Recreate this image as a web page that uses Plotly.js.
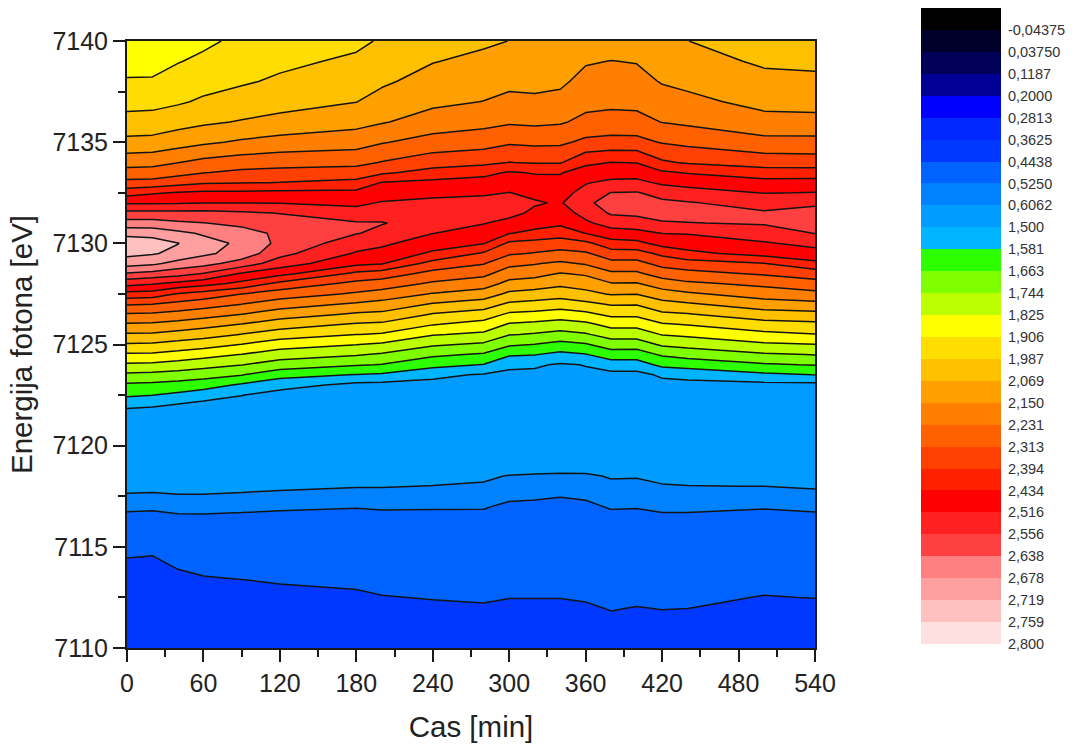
<!DOCTYPE html>
<html><head><meta charset="utf-8">
<script src="https://cdn.plot.ly/plotly-3.0.1.min.js"></script>
<style>html,body{margin:0;padding:0;background:#fff}</style></head>
<body><div id="c" style="width:1078px;height:747px"></div>
<script>
// Time axis [min]
const times = [0,20,40,60,90,120,180,200,240,280,300,320,340,360,380,400,420,440,500,540];
// Photon energy rows [eV], top to bottom
const energies = [7140,7139,7138,7137,7136,7135,7134,7133.5,7133,7132.5,7132,7131.5,7131,7130.5,7130,7129.5,7129,7128.5,7128,7127.5,7127,7126.5,7126,7125.5,7125,7124.5,7124,7123.5,7123,7122.5,7122,7121.5,
  7120,7119,7118.5,7118,7117.5,7117,7116.5,7116,7115,7114.5,7114,7113.5,7113,7112.5,7112,7110];
// Legend labels (one per band boundary); z values below are positions on this non-linear scale
const levelLabels = ["-0,04375","0,03750","0,1187","0,2000","0,2813","0,3625","0,4438","0,5250","0,6062","1,500","1,581","1,663","1,744","1,825","1,906","1,987","2,069","2,150","2,231","2,313","2,394","2,434","2,516","2,556","2,638","2,678","2,719","2,759","2,800"];
const bandColors = ["#000000","#00002a","#000058","#000095","#0000ff","#0028ff","#0038ff","#0062ff","#0082ff","#009cff","#00b4ff","#2dff00","#7fff00","#bbff00","#ffff00","#ffdd00","#ffc000","#ff9f00","#ff8000","#ff6000","#ff4000","#ff2000","#ff0000","#ff2020","#ff4040","#ff8080","#ffa0a0","#ffc0c0","#ffe0e0"];
// Measured signal per time column, in energy-row order
const t0   = [13.2,13.6,14.1,14.67,15.36,16.27,17.6,18.4,19.27,20.6,21.87,23.28,24.39,25.7,26.6,26.3,25.4,23.9,22.3,20.67,19.1,17.93,16.9,15.9,14.9,13.87,12.86,11.8,10.83,10.14,9.29,8.4, 8.55,8.45,8.42,8.38,7.84,7.29,6.75,6.29,6.10,6.01,5.92,5.83,5.74,5.65,5.56,5.3];
const t20  = [13.1,13.55,14.13,14.7,15.4,16.32,17.67,18.45,19.32,20.87,21.88,23.28,24.39,25.67,26.4,26.1,25.2,23.65,22.07,20.55,19.02,17.87,16.84,15.86,14.84,13.83,12.79,11.73,10.77,10.02,9.15,8.3, 8.55,8.45,8.4,8.35,7.8,7.24,6.69,6.26,6.08,5.99,5.90,5.81,5.72,5.63,5.53,5.2];
const t40  = [13.45,13.95,14.43,14.88,15.64,16.58,17.98,18.68,19.64,21.08,21.92,23.26,24.16,25.25,26.03,25.7,24.65,23.38,21.7,19.92,18.74,17.67,16.63,15.63,14.63,13.6,12.59,11.58,10.63,9.77,8.9,8.7, 8.55,8.47,8.45,8.41,7.9,7.38,6.86,6.38,6.2,6.11,6.02,5.93,5.84,5.75,5.65,5.3];
const t60  = [13.8,14.2,14.65,15.14,15.84,16.84,18.27,18.96,19.88,21.2,21.97,23.3,24.03,24.87,25.4,25.2,24.35,22.93,21.36,19.6,18.46,17.43,16.4,15.4,14.4,13.37,12.35,11.4,10.42,9.5,8.65,8.6, 8.55,8.47,8.45,8.41,7.9,7.39,6.88,6.44,6.26,6.17,6.08,5.99,5.90,5.81,5.72,5.35];
const t90  = [14.23,14.56,14.89,15.41,16.07,17.14,18.51,19.2,19.95,21.2,21.98,23.13,23.7,24.5,24.8,24.6,23.55,21.87,20.69,19.01,18.01,17.01,15.97,14.97,13.97,12.97,12.03,11.04,9.86,9.03,8.6,8.55, 8.55,8.45,8.42,8.32,7.81,7.31,6.8,6.48,6.3,6.21,6.12,6.02,5.93,5.84,5.75,5.39];
const t120 = [14.55,14.8,15.14,15.6,16.32,17.36,18.64,19.3,20.02,21.25,21.97,22.97,23.4,23.75,23.75,23.3,22.5,21.3,19.7,18.5,17.5,16.5,15.47,14.5,13.47,12.45,11.57,10.35,9.4,8.6,8.55,8.5, 8.55,8.4,8.3,8.22,7.72,7.22,6.72,6.52,6.33,6.24,6.15,6.06,5.97,5.88,5.79,5.42];
const t180 = [14.8,15.16,15.57,15.98,16.68,17.58,18.74,19.43,20.29,21.26,21.8,22.37,23.1,23.05,22.45,21.9,21.23,19.76,18.71,17.87,16.87,15.87,14.9,14.02,13.02,12.09,11.1,9.96,8.72,8.7,8.65,8.6, 8.55,8.35,8.2,8.07,7.57,7.07,6.7,6.56,6.38,6.29,6.2,6.11,6.02,5.93,5.83,5.47];
const t200 = [15.1,15.5,15.85,16.35,16.92,17.93,19.05,19.83,21.05,21.55,22.07,22.57,23.05,22.74,22.2,21.66,21.07,19.5,18.54,17.6,16.66,15.78,14.82,13.9,12.84,11.88,10.96,9.84,8.7,8.65,8.6,8.55, 8.55,8.35,8.2,8.06,7.61,7.16,6.72,6.62,6.43,6.34,6.25,6.16,6.07,5.98,5.89,5.52];
const t240 = [15.55,15.96,16.37,16.79,17.44,18.4,19.56,20.36,21.25,21.73,22.25,22.6,22.6,22.02,21.45,20.83,19.63,18.69,17.83,16.93,15.93,14.94,14.06,13.07,12.15,11.19,10.31,9.24,8.7,8.65,8.6,8.55, 8.55,8.45,8.41,7.97,7.55,7.13,6.7,6.66,6.48,6.39,6.30,6.20,6.11,6.02,5.93,5.57];
const t280 = [15.85,16.23,16.62,17.02,17.7,18.6,19.75,20.72,21.37,21.85,22.35,22.5,22.05,21.54,21.05,19.87,19.05,18.24,17.45,16.53,15.52,14.55,13.65,12.8,11.82,10.88,9.96,8.9,8.7,8.65,8.6,8.55, 8.55,8.4,8.23,7.84,7.46,7.08,6.8,6.69,6.51,6.42,6.33,6.23,6.14,6.05,5.96,5.6];
const t300 = [16.01,16.38,16.76,17.24,17.88,18.87,20.02,21.09,21.55,22.02,22.42,22.3,21.7,21.04,19.81,19.12,18.26,17.47,16.69,15.78,14.83,13.85,12.91,12.06,11.15,10.13,9.19,8.8,8.75,8.7,8.65,8.6, 8.75,8.73,7.93,7.55,7.19,6.83,6.74,6.65,6.47,6.38,6.29,6.19,6.10,6.01,5.92,5.56];
const t320 = [16.01,16.37,16.73,17.18,17.8,18.79,19.91,20.93,21.37,21.77,22.1,21.8,21.37,20.75,19.65,18.94,18.06,17.33,16.52,15.59,14.68,13.72,12.77,11.91,10.97,10.03,9.12,8.8,8.75,8.7,8.65,8.6, 8.75,8.64,7.85,7.48,7.13,6.78,6.74,6.65,6.47,6.38,6.29,6.19,6.10,6.01,5.92,5.56];
const t340 = [16.13,16.48,16.82,17.29,17.89,18.82,19.91,20.93,21.3,21.61,21.9,21.53,21.2,20.45,19.5,18.71,17.82,16.93,16.21,15.41,14.52,13.52,12.56,11.67,10.69,9.74,8.9,8.8,8.75,8.7,8.65,8.6, 8.75,8.58,7.77,7.4,7.04,6.68,6.67,6.64,6.46,6.37,6.28,6.19,6.10,6.01,5.91,5.55];
const t360 = [16.46,16.91,17.31,17.71,18.25,19.22,20.79,21.42,21.93,22.36,22.8,22.35,21.82,21.02,19.76,18.87,18.1,17.13,16.45,15.7,14.77,13.77,12.77,11.9,10.91,9.94,9.03,8.85,8.8,8.75,8.7,8.65, 8.75,8.57,7.82,7.47,7.13,6.8,6.74,6.68,6.49,6.40,6.31,6.22,6.13,6.04,5.95,5.59];
const t380 = [16.54,17.02,17.38,17.77,18.37,19.32,21.02,21.58,22.22,23.03,23.4,23.12,22.41,21.55,20.62,19.54,18.69,17.82,16.92,16.08,15.1,14.23,13.34,12.44,11.48,10.5,9.53,8.7,8.65,8.6,8.55,8.5, 8.55,8.4,8.1,7.76,7.43,7.1,6.77,6.76,6.58,6.49,6.40,6.31,6.22,6.13,6.03,5.67];
const t400 = [16.48,16.95,17.34,17.74,18.32,19.32,20.96,21.58,22.25,23.07,23.5,23.2,22.56,21.66,20.75,19.57,18.69,17.82,16.91,16.03,15.09,14.23,13.34,12.44,11.47,10.48,9.53,8.7,8.65,8.6,8.55,8.5, 8.55,8.4,8.08,7.73,7.4,7.07,6.74,6.72,6.54,6.45,6.36,6.26,6.17,6.08,5.99,5.63];
const t420 = [16.15,16.54,16.93,17.43,17.97,18.93,20.14,21.14,21.84,22.62,23.21,23.43,22.89,22.02,21.33,20.24,19.32,18.42,17.5,16.55,15.66,14.83,13.91,13.06,12.15,11.13,10.24,9.15,8.7,8.65,8.6,8.55, 8.55,8.45,8.28,7.92,7.56,7.21,6.86,6.74,6.56,6.47,6.38,6.29,6.20,6.11,6.02,5.65];
const t440 = [16.01,16.39,16.77,17.24,17.83,18.75,19.9,20.93,21.67,22.39,23.07,23.32,22.97,22.05,21.5,20.75,19.54,18.69,17.81,16.84,15.88,14.94,14.06,13.2,12.34,11.37,10.41,9.32,8.7,8.65,8.6,8.55, 8.55,8.45,8.36,7.98,7.6,7.22,6.85,6.73,6.54,6.45,6.36,6.27,6.18,6.09,6.01,5.63];
const t500 = [15.45,15.85,16.29,16.72,17.32,18.32,19.56,20.45,21.36,21.96,22.64,23.1,23.1,22.5,21.9,21.36,19.97,19.11,18.22,17.45,16.57,15.56,14.63,13.76,12.84,11.87,10.87,9.8,8.7,8.65,8.6,8.55, 8.55,8.45,8.45,8.01,7.57,7.12,6.67,6.62,6.44,6.35,6.26,6.16,6.07,5.98,5.89,5.53];
const t540 = [15.45,15.8,16.2,16.67,17.29,18.31,19.5,20.45,21.38,22.03,22.84,23.32,23.55,23.02,22.3,21.6,20.78,19.4,18.66,17.7,16.74,15.7,14.78,13.97,12.97,12.03,11.06,10.01,8.7,8.65,8.6,8.55, 8.55,8.45,8.45,8.13,7.69,7.24,6.8,6.63,6.45,6.36,6.27,6.18,6.09,6.01,5.9,5.54];
const columns = [t0,t20,t40,t60,t90,t120,t180,t200,t240,t280,t300,t320,t340,t360,t380,t400,t420,t440,t500,t540];

const zMatrix = energies.map((_,r)=>columns.map(c=>c[r])).reverse();
const yRows = energies.slice().reverse();
const n = bandColors.length;
// legend: one flat colour per cell
const legendScale = [];
bandColors.forEach((c,i)=>{legendScale.push([i/n,c]);legendScale.push([(i+1)/n,c]);});
// contour fills: Plotly samples the scale at (level+1)/n, so centre each colour on that position
const contourScale = [];
bandColors.forEach((c,i)=>{contourScale.push([i===0?0:(i-0.5)/n,c]);contourScale.push([i===n-1?1:(i+0.5)/n,c]);});
const W=1078,H=747, ink='#1a1a1a';
const font='"Liberation Sans", Arial, sans-serif';
const legendIdx = bandColors.map((_,i)=>i);

const traces = [
 {type:'contour',x:times,y:yRows,z:zMatrix,zauto:false,zmin:-0.5,zmax:28.5,colorscale:contourScale,showscale:false,
  autocontour:false,contours:{start:0,end:28,size:1,coloring:'fill',showlines:true},
  line:{color:'#141414',width:1.5,smoothing:0},hoverinfo:'skip'},
 {type:'heatmap',x:[0],y:legendIdx,z:legendIdx.map(i=>[i]),xaxis:'x2',yaxis:'y2',zauto:false,zmin:-0.5,zmax:28.5,
  colorscale:legendScale,showscale:false,hoverinfo:'skip'}
];
const layout = {
 width:W,height:H,margin:{l:0,r:0,t:0,b:0},paper_bgcolor:'#fff',plot_bgcolor:'#fff',showlegend:false,
 font:{family:font,color:'#222'},
 xaxis:{domain:[127/W,815/W],range:[0,540],tickvals:[0,60,120,180,240,300,360,420,480,540],ticks:'outside',ticklen:12,tickwidth:2,tickcolor:ink,
   minor:{dtick:30,ticks:'outside',ticklen:7,tickwidth:2,tickcolor:ink,showgrid:false},
   showline:true,mirror:true,linecolor:ink,linewidth:2,showgrid:false,zeroline:false,tickfont:{size:25,family:font,color:'#222'},
   title:{text:'Cas [min]',font:{size:29.5,family:font,color:'#222'},standoff:20},automargin:false},
 yaxis:{domain:[1-648/H,1-41/H],range:[7110,7140],tickvals:[7110,7115,7120,7125,7130,7135,7140],ticks:'outside',ticklen:12,tickwidth:2,tickcolor:ink,
   minor:{dtick:2.5,tick0:7110,ticks:'outside',ticklen:7,tickwidth:2,tickcolor:ink,showgrid:false},
   showline:true,mirror:true,linecolor:ink,linewidth:2,showgrid:false,zeroline:false,tickfont:{size:25,family:font,color:'#222'},
   title:{text:'Energija fotona [eV]',font:{size:29.5,family:font,color:'#222'},standoff:11},automargin:false},
 xaxis2:{domain:[921/W,1001/W],anchor:'y2',range:[-0.5,0.5],showticklabels:false,ticks:'',showgrid:false,zeroline:false,showline:false},
 yaxis2:{domain:[1-644/H,1-8/H],anchor:'x2',side:'right',range:[28.5,-0.5],tickmode:'array',
   tickvals:legendIdx.map(i=>i+0.5),ticktext:levelLabels,ticks:'outside',ticklen:3,tickcolor:'rgba(0,0,0,0)',
   showgrid:false,zeroline:false,showline:false,tickfont:{size:14.5,family:font,color:'#333'}}
};
Plotly.newPlot('c',traces,layout,{staticPlot:true,displayModeBar:false});
</script></body></html>
